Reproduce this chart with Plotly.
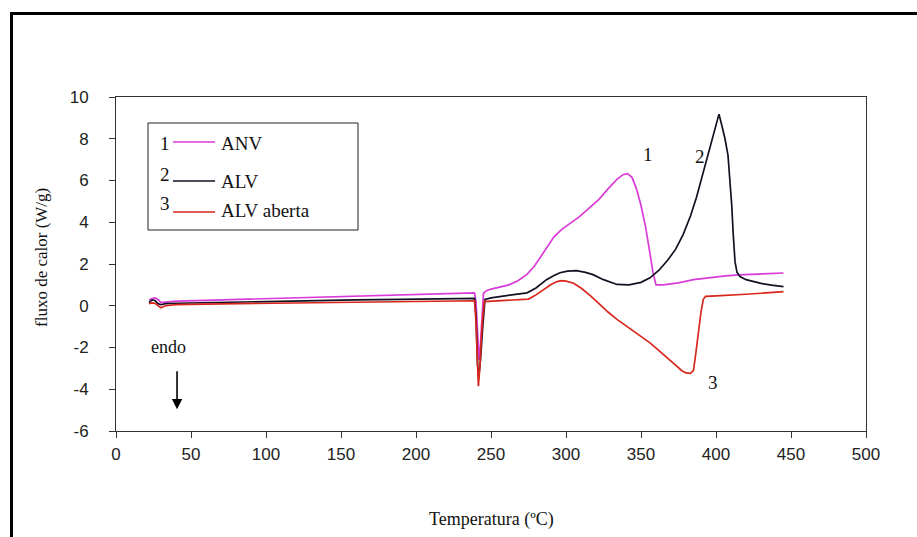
import plotly.graph_objects as go

# ---- DSC curves: heat flow (W/g) versus temperature (ºC) ----
anv_temp = [22, 24, 26, 28, 30, 33, 40, 60, 80, 100, 120, 140, 160, 180, 200, 220, 235, 239,
            240, 241, 242, 243, 244, 245, 247, 250, 255, 262, 268, 274, 279, 283, 287, 292,
            297, 301, 305, 309, 315, 322, 328, 334, 338, 341, 344, 347, 350, 353, 356, 358,
            360, 365, 370, 375, 385, 395, 405, 415, 425, 435, 445]
anv_flow = [0.28, 0.35, 0.38, 0.30, 0.15, 0.18, 0.22, 0.26, 0.30, 0.34, 0.38, 0.42, 0.47, 0.51,
            0.55, 0.59, 0.62, 0.62, 0.2, -1.5, -2.6, -1.8, -0.3, 0.6, 0.72, 0.8, 0.88, 1.0, 1.2,
            1.5, 1.9, 2.35, 2.8, 3.3, 3.65, 3.85, 4.05, 4.27, 4.65, 5.1, 5.6, 6.05, 6.28, 6.33,
            6.15, 5.6, 4.8, 3.8, 2.5, 1.6, 1.0, 1.0, 1.05, 1.1, 1.25, 1.35, 1.42, 1.48, 1.52,
            1.55, 1.57]

alv_temp = [22, 24, 26, 28, 30, 33, 40, 60, 80, 100, 130, 160, 190, 220, 239, 240, 241, 241.8,
            243, 244.5, 246, 250, 257, 265, 274, 280, 287, 292, 296, 301, 307, 313, 318, 325,
            334, 342, 350, 356, 362, 368, 373, 378, 383, 387, 390, 393, 396, 399, 401, 402,
            404, 406, 408, 409.5, 410.5, 411.5, 412.7, 414, 416, 420, 425, 430, 437, 445]
alv_flow = [0.15, 0.28, 0.25, 0.10, 0.05, 0.10, 0.12, 0.15, 0.18, 0.2, 0.24, 0.28, 0.31, 0.33,
            0.35, -0.5, -2.8, -3.4, -2.6, -1.0, 0.3, 0.38, 0.45, 0.52, 0.62, 0.85, 1.25, 1.45,
            1.58, 1.66, 1.68, 1.6, 1.49, 1.25, 1.02, 1.0, 1.12, 1.34, 1.7, 2.2, 2.7, 3.4, 4.3,
            5.2, 6.0, 6.8, 7.6, 8.4, 9.0, 9.18, 8.6, 8.0, 7.2, 6.0, 4.8, 3.4, 2.1, 1.6, 1.4,
            1.25, 1.15, 1.07, 0.99, 0.92]

aberta_temp = [22, 24, 26, 28, 30, 33, 40, 60, 80, 100, 130, 160, 190, 220, 239, 240, 241,
               241.6, 242.5, 244, 245.5, 250, 260, 270, 275, 280, 285, 290, 294, 297, 300, 305,
               310, 316, 322, 328, 334, 341, 348, 356, 362, 367, 371, 374, 377, 380, 383, 385,
               386.5, 388, 390, 391.5, 393, 400, 410, 420, 430, 437, 445]
aberta_flow = [0.10, 0.14, 0.12, 0.0, -0.1, 0.0, 0.05, 0.08, 0.1, 0.12, 0.15, 0.18, 0.2, 0.23,
               0.24, -0.8, -3.0, -3.85, -3.0, -1.0, 0.2, 0.22, 0.25, 0.28, 0.32, 0.52, 0.78,
               1.02, 1.16, 1.2, 1.18, 1.08, 0.85, 0.5, 0.1, -0.3, -0.65, -1.0, -1.35, -1.78,
               -2.15, -2.45, -2.7, -2.9, -3.1, -3.22, -3.24, -3.1, -2.3, -1.3, -0.3, 0.3, 0.45,
               0.47, 0.5, 0.55, 0.6, 0.64, 0.68]

series_names = ["ANV", "ALV", "ALV aberta"]
series_numbers = ["1", "2", "3"]
series_colors = ["#d93bd9", "#111122", "#d8261c"]

x_ticks = [0, 50, 100, 150, 200, 250, 300, 350, 400, 450, 500]
x_tick_labels = ["0", "50", "100", "150", "200", "250", "300", "350", "400", "450", "500"]
y_ticks = [-6, -4, -2, 0, 2, 4, 6, 8, 10]
y_tick_labels = ["-6", "-4", "-2", "0", "2", "4", "6", "8", "10"]

# curve labels placed beside each curve (temperature, heat flow)
curve_label_text = ["1", "2", "3"]
curve_label_temp = [354.7, 389, 398]
curve_label_flow = [7.25, 7.15, -3.7]

W, H = 917, 537
L, R, T, B = 116, 866, 97, 431  # plot-area edges in pixels

def px(xp):
    return (xp - L) / (R - L)

def py(yp):
    return (B - yp) / (B - T)

SERIF = "Liberation Serif, Times New Roman, serif"
SANS = "Liberation Sans, Arial, sans-serif"

fig = go.Figure()
curves = [(anv_temp, anv_flow), (alv_temp, alv_flow), (aberta_temp, aberta_flow)]
for (xs, ys), name, color in zip(curves, series_names, series_colors):
    fig.add_trace(go.Scatter(x=xs, y=ys, mode="lines", name=name,
                             line=dict(color=color, width=1.7), showlegend=False))

axis_common = dict(showgrid=False, zeroline=False, showline=True, linecolor="#333333",
                   linewidth=1, mirror=True, ticks="outside", ticklen=6, tickcolor="#333333",
                   tickfont=dict(family=SANS, size=17, color="#222222"))
fig.update_xaxes(range=[0, 500], tickvals=x_ticks, ticktext=x_tick_labels,
                 ticklabelstandoff=2, **axis_common)
fig.update_yaxes(range=[-6, 10], tickvals=y_ticks, ticktext=y_tick_labels,
                 ticklabelstandoff=17, **axis_common)

annotations = []
# axis titles
annotations.append(dict(text="Temperatura (ºC)", xref="paper", yref="paper", x=0.5, y=py(519),
                        xanchor="center", yanchor="middle", showarrow=False,
                        font=dict(family=SERIF, size=18, color="#111111")))
annotations.append(dict(text="fluxo de calor (W/g)", xref="paper", yref="paper", x=px(41),
                        y=py(258), xanchor="center", yanchor="middle", textangle=-90,
                        showarrow=False, font=dict(family=SERIF, size=17, color="#111111")))
# curve numbers
for t, xv, yv in zip(curve_label_text, curve_label_temp, curve_label_flow):
    annotations.append(dict(text=t, x=xv, y=yv, xref="x", yref="y", showarrow=False,
                            xanchor="center", yanchor="middle",
                            font=dict(family=SERIF, size=19, color="#111111")))
# "endo" direction marker
annotations.append(dict(text="endo", x=34.7, y=-1.97, xref="x", yref="y", showarrow=False,
                        xanchor="center", yanchor="middle",
                        font=dict(family=SERIF, size=18, color="#111111")))
annotations.append(dict(text="", x=40.7, y=-4.96, ax=40.7, ay=-3.07, xref="x", yref="y",
                        axref="x", ayref="y", showarrow=True, arrowhead=2, arrowsize=1.3,
                        arrowwidth=1.6, arrowcolor="#000000"))

shapes = []
# legend box
shapes.append(dict(type="rect", xref="paper", yref="paper", x0=px(148), x1=px(358),
                   y0=py(230), y1=py(123), line=dict(color="#222222", width=1),
                   fillcolor="white", layer="above"))
legend_num_y = [143, 174, 203]
legend_line_y = [142, 181, 212]
legend_text_y = [143, 181, 210]
for num, name, color, ny, ly, ty in zip(series_numbers, series_names, series_colors,
                                        legend_num_y, legend_line_y, legend_text_y):
    shapes.append(dict(type="line", xref="paper", yref="paper", x0=px(173), x1=px(215),
                       y0=py(ly), y1=py(ly), line=dict(color=color, width=1.5), layer="above"))
    annotations.append(dict(text=num, xref="paper", yref="paper", x=px(172), y=py(ny),
                            xanchor="right", yanchor="middle", showarrow=False,
                            font=dict(family=SERIF, size=19, color="#111111")))
    annotations.append(dict(text=name, xref="paper", yref="paper", x=px(219), y=py(ty),
                            xanchor="left", yanchor="middle", showarrow=False,
                            font=dict(family=SERIF, size=19, color="#111111")))

# frame around the figure (top and left edges)
shapes.append(dict(type="line", xref="paper", yref="paper", x0=px(10), x1=px(W + 2),
                   y0=py(13.5), y1=py(13.5), line=dict(color="#000000", width=3)))
shapes.append(dict(type="line", xref="paper", yref="paper", x0=px(11.5), x1=px(11.5),
                   y0=py(12), y1=py(H + 2), line=dict(color="#000000", width=3)))

fig.update_layout(width=W, height=H, margin=dict(l=L, r=W - R, t=T, b=H - B),
                  paper_bgcolor="white", plot_bgcolor="white",
                  annotations=annotations, shapes=shapes, showlegend=False)

fig.write_html("out.html")
